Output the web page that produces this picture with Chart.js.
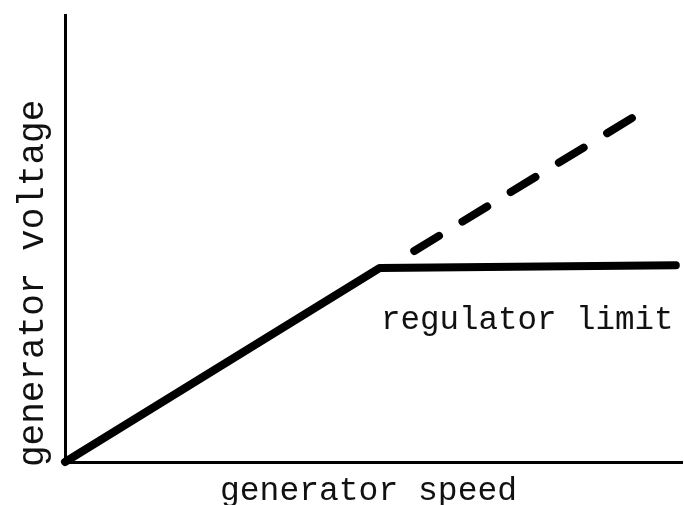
<!DOCTYPE html>
<html>
<head>
<meta charset="utf-8">
<script src="https://cdn.jsdelivr.net/npm/chart.js@4/dist/chart.umd.min.js"></script>
<style>
  body { margin: 0; background: #fff; }
  canvas { display: block; }
</style>
</head>
<body>
<canvas id="regChart" width="684" height="505"></canvas>
<script>
// regulated output (solid) and unregulated extension (dashed)
const speed = [0, 51, 99];
const voltage = [0, 43.4, 44];
const unregSpeed = [56.6, 92.2];
const unregVoltage = [47.2, 77.2];

const xTitle = "generator speed";
const yTitle = "generator voltage";
const limitLabel = "regulator limit";
const limitLabelAt = { x: 51.2, y: 29.8 };

const toPoints = (xs, ys) => xs.map((x, i) => ({ x: x, y: ys[i] }));

// draws the typed labels in the places the scan has them
const labelsPlugin = {
  id: "labels",
  afterDraw(chart) {
    const ctx = chart.ctx;
    const xs = chart.scales.x;
    const ys = chart.scales.y;
    ctx.save();
    ctx.fillStyle = "#111";
    ctx.textBaseline = "alphabetic";
    ctx.textAlign = "left";

    ctx.font = "33px 'Liberation Mono'";
    ctx.fillText(xTitle, 220, 500);

    ctx.font = "32.5px 'Liberation Mono'";
    ctx.fillText(limitLabel, xs.getPixelForValue(limitLabelAt.x), ys.getPixelForValue(limitLabelAt.y));

    ctx.translate(43, 467);
    ctx.rotate(-Math.PI / 2);
    ctx.font = "36px 'Liberation Mono'";
    ctx.fillText(yTitle, 0, 0);
    ctx.restore();
  },
};

const regCtx = document.getElementById("regChart").getContext("2d");

const regChart = new Chart(regCtx, {
  type: "scatter",
  data: {
    datasets: [
      {
        label: "regulated",
        data: toPoints(speed, voltage),
        showLine: true,
        borderColor: "#000",
        borderWidth: 8,
        borderJoinStyle: "round",
        borderCapStyle: "round",
        pointRadius: 0,
        clip: false,
      },
      {
        label: "unregulated",
        data: toPoints(unregSpeed, unregVoltage),
        showLine: true,
        borderColor: "#000",
        borderWidth: 8,
        borderDash: [29, 27.5],
        borderCapStyle: "round",
        pointRadius: 0,
        clip: false,
      },
    ],
  },
  options: {
    responsive: false,
    animation: false,
    layout: { padding: { top: 15, right: 2, left: 0, bottom: 0 } },
    plugins: { legend: { display: false }, tooltip: { enabled: false } },
    scales: {
      x: {
        min: 0,
        max: 100,
        ticks: { display: false },
        grid: { display: false },
        border: { color: "#000", width: 3 },
        afterFit: (s) => { s.height = 43; },
      },
      y: {
        min: 0,
        max: 100,
        ticks: { display: false },
        grid: { display: false },
        border: { color: "#000", width: 3 },
        afterFit: (s) => { s.width = 65; },
      },
    },
  },
  plugins: [labelsPlugin],
});
</script>
</body>
</html>
